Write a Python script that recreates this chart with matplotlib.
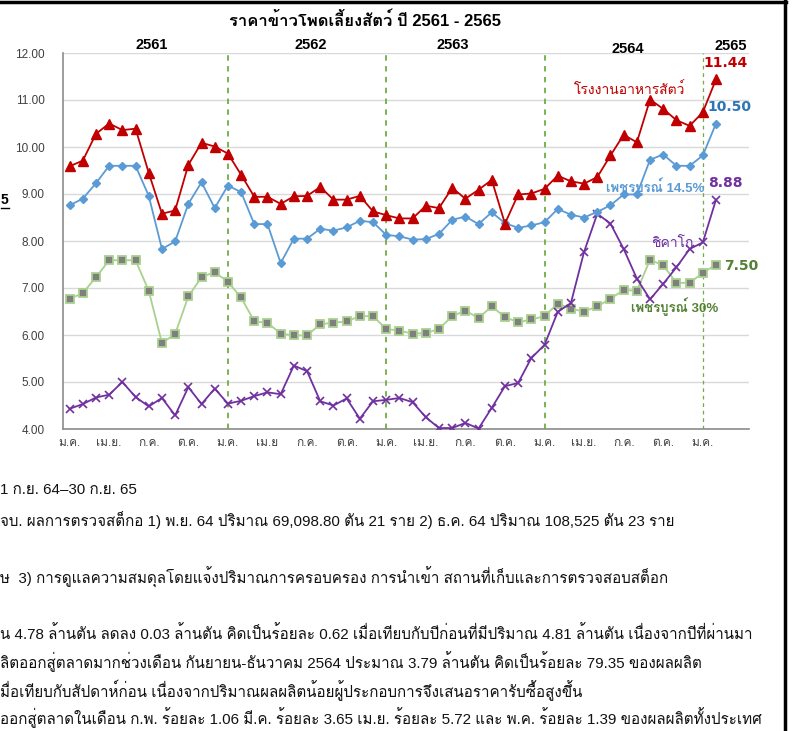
'''
Corn feed price chart 2561 - 2565
'''
import matplotlib
matplotlib.use('Agg')
import matplotlib.pyplot as plt
from matplotlib.lines import Line2D
import numpy as np

plt.rcParams['font.family'] = ['Liberation Sans', 'Loma', 'DejaVu Sans']

# monthly prices ม.ค. 2561 - ก.พ. 2565 (baht / kg)
feed_mill = [9.59, 9.71, 10.28, 10.50, 10.36, 10.39, 9.45, 8.58, 8.65, 9.62, 10.09, 10.01,
             9.86, 9.41, 8.94, 8.94, 8.79, 8.95, 8.96, 9.15, 8.88, 8.88, 8.96, 8.63,
             8.55, 8.48, 8.48, 8.75, 8.70, 9.13, 8.90, 9.09, 9.30, 8.37, 8.99, 9.01,
             9.11, 9.39, 9.27, 9.22, 9.36, 9.82, 10.26, 10.10, 11.01, 10.81, 10.57, 10.45,
             10.74, 11.44]
pb_145 = [8.76, 8.90, 9.23, 9.60, 9.60, 9.60, 8.96, 7.83, 7.99, 8.79, 9.25, 8.70,
          9.18, 9.04, 8.36, 8.36, 7.53, 8.05, 8.05, 8.26, 8.22, 8.29, 8.43, 8.40,
          8.13, 8.10, 8.03, 8.04, 8.15, 8.45, 8.52, 8.36, 8.61, 8.38, 8.28, 8.33,
          8.40, 8.68, 8.56, 8.50, 8.62, 8.76, 8.99, 8.99, 9.73, 9.84, 9.60, 9.60,
          9.82, 10.50]
pb_30 = [6.77, 6.89, 7.23, 7.59, 7.59, 7.59, 6.94, 5.83, 6.02, 6.82, 7.23, 7.34,
         7.13, 6.80, 6.29, 6.26, 6.03, 5.99, 5.99, 6.23, 6.26, 6.29, 6.40, 6.40,
         6.13, 6.09, 6.03, 6.04, 6.13, 6.40, 6.52, 6.36, 6.61, 6.38, 6.27, 6.33,
         6.40, 6.67, 6.56, 6.50, 6.61, 6.77, 6.96, 6.94, 7.60, 7.48, 7.11, 7.11,
         7.32, 7.50]
chicago = [4.43, 4.53, 4.67, 4.73, 5.00, 4.68, 4.48, 4.66, 4.29, 4.89, 4.53, 4.86,
           4.54, 4.60, 4.70, 4.78, 4.74, 5.35, 5.23, 4.59, 4.50, 4.65, 4.22, 4.59,
           4.62, 4.66, 4.57, 4.25, 4.02, 4.02, 4.13, 4.01, 4.45, 4.91, 4.98, 5.51,
           5.79, 6.49, 6.68, 7.77, 8.58, 8.37, 7.83, 7.20, 6.76, 7.09, 7.44, 7.83,
           7.97, 8.88]

n_slots = 52  # axis has room for 52 months, data for 50
month_labels = ["ม.ค.", "เม.ย.", "ก.ค.", "ต.ค.",
                "ม.ค.", "เม.ย", "ก.ค.", "ต.ค.",
                "ม.ค.", "เม.ย.", "ก.ค.", "ต.ค.",
                "ม.ค.", "เม.ย.", "ก.ค.", "ต.ค.",
                "ม.ค."]
years = ["2561", "2562", "2563", "2564", "2565"]

body_lines = [
    "1 ก.ย. 64–30 ก.ย. 65",
    "จบ. ผลการตรวจสต็กอ 1) พ.ย. 64 ปริมาณ 69,098.80 ตัน 21 ราย 2) ธ.ค. 64 ปริมาณ 108,525 ตัน 23 ราย",
    "ษ  3) การดูแลความสมดุลโดยแจ้งปริมาณการครอบครอง การนำเข้า สถานที่เก็บและการตรวจสอบสต็อก",
    "น 4.78 ล้านตัน ลดลง 0.03 ล้านตัน คิดเป็นร้อยละ 0.62 เมื่อเทียบกับปีก่อนที่มีปริมาณ 4.81 ล้านตัน เนื่องจากปีที่ผ่านมา",
    "ลิตออกสู่ตลาดมากช่วงเดือน กันยายน-ธันวาคม 2564 ประมาณ 3.79 ล้านตัน คิดเป็นร้อยละ 79.35 ของผลผลิต",
    "มื่อเทียบกับสัปดาห์ก่อน เนื่องจากปริมาณผลผลิตน้อยผู้ประกอบการจึงเสนอราคารับซื้อสูงขึ้น",
    "ออกสู่ตลาดในเดือน ก.พ. ร้อยละ 1.06 มี.ค. ร้อยละ 3.65 เม.ย. ร้อยละ 5.72 และ พ.ค. ร้อยละ 1.39 ของผลผลิตทั้งประเทศ",
]

W, H = 799, 731


def fx(px):
    return px / W


def fy(py):
    return 1 - py / H


fig = plt.figure(figsize=(W / 100, H / 100), dpi=100)
ax = fig.add_axes([fx(63), fy(429), fx(749) - fx(63), fy(53) - fy(429)])

x = np.arange(len(feed_mill))
ax.plot(x, pb_30, color='#a9d18e', lw=1.3, marker='s', ms=5.5,
        mfc='#7f7f7f', mec='#a9d18e', mew=1.3, zorder=3)
ax.plot(x, chicago, color='#7030a0', lw=1.3, marker='x', ms=6, mew=1.2, zorder=4)
ax.plot(x, pb_145, color='#5b9bd5', lw=1.3, marker='D', ms=4.5,
        mfc='#5b9bd5', mec='#5b9bd5', zorder=5)
ax.plot(x, feed_mill, color='#c00000', lw=1.3, marker='^', ms=6.5,
        mfc='#c00000', mec='#c00000', zorder=6)

ax.set_xlim(-0.5, n_slots - 0.5)
ax.set_ylim(4, 12)
ax.set_yticks(np.arange(4, 12.01, 1))
ax.set_yticklabels(["%.2f" % v for v in np.arange(4, 12.01, 1)], fontsize=8.5, color='#404040')
ax.set_xticks(np.arange(0, len(month_labels) * 3, 3))
ax.set_xticklabels(month_labels, fontsize=8.5, color='#404040')
ax.tick_params(axis='y', length=0, pad=13)
ax.tick_params(axis='x', length=0, pad=6)
ax.grid(axis='y', color='#d9d9d9', lw=1)
ax.set_axisbelow(True)
for s in ['top', 'right']:
    ax.spines[s].set_visible(False)
for s in ['left', 'bottom']:
    ax.spines[s].set_color('#8c8c8c')
    ax.spines[s].set_linewidth(1.2)

# year separators
for i, yr in enumerate([12, 24, 36, 48]):
    ax.axvline(yr, color='#70ad47', lw=1.3 if i < 3 else 0.9, ls=(0, (3, 3)), zorder=2)

# year labels
for yr, (px, py) in zip(years, [(152, 45), (311, 45), (453, 45), (628, 49), (731, 46)]):
    fig.text(fx(px), fy(py), yr, fontsize=10.5, fontweight='bold', ha='center', va='center')

fig.text(fx(365), fy(20), "ราคาข้าวโพดเลี้ยงสัตว์ ปี 2561 - 2565", fontsize=12,
         fontweight='bold', ha='center', va='center')

# end values
vfont = dict(fontsize=10, fontweight='bold', ha='center', va='center', family='DejaVu Sans')
fig.text(fx(726), fy(63), "%.2f" % feed_mill[-1], color='#c00000', **vfont)
fig.text(fx(729), fy(107), "%.2f" % pb_145[-1], color='#2e75b6', **vfont)
fig.text(fx(725), fy(183), "%.2f" % chicago[-1], color='#7030a0', **vfont)
fig.text(fx(741), fy(266), "%.2f" % pb_30[-1], color='#548235', **vfont)

# series names
fig.text(fx(630), fy(90), "โรงงานอาหารสัตว์", color='#c00000', fontsize=10, ha='center', va='center')
fig.text(fx(655), fy(187), "เพชรบูรณ์ 14.5%", color='#5b9bd5', fontsize=9.5, fontweight='bold',
         ha='center', va='center')
fig.text(fx(672), fy(243), "ชิคาโก", color='#7030a0', fontsize=10, ha='center', va='center')
fig.text(fx(675), fy(307), "เพชรบูรณ์ 30%", color='#548235', fontsize=9.5, fontweight='bold',
         ha='center', va='center')

# cut-off fragment on the left
fig.text(fx(1), fy(200), "5", fontsize=10, fontweight='bold', ha='left', va='center')
fig.add_artist(Line2D([fx(1), fx(9)], [fy(208), fy(208)], color='black', lw=1))

# page frame
fig.add_artist(Line2D([0, fx(786)], [fy(2), fy(2)], color='black', lw=2.5))
fig.add_artist(Line2D([fx(785), fx(785)], [0, 1], color='black', lw=2.5))

# body text below the chart
for txt, py in zip(body_lines, [490, 520, 577, 634, 662, 690, 718]):
    fig.text(fx(0), fy(py), txt, fontsize=10.9, ha='left', va='center', color='#111111')

fig.savefig("out.png", dpi=100)
